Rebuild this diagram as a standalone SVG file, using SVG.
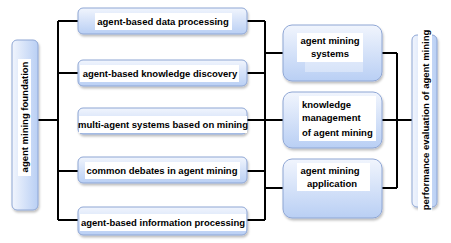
<svg xmlns="http://www.w3.org/2000/svg" width="451" height="243" viewBox="0 0 451 243">
<defs>
<linearGradient id="g" x1="0" y1="0" x2="0" y2="1">
<stop offset="0" stop-color="#f1f5fd"/>
<stop offset="1" stop-color="#b9cff4"/>
</linearGradient>
<linearGradient id="gh" x1="0" y1="0" x2="1" y2="0">
<stop offset="0" stop-color="#f1f5fd"/>
<stop offset="1" stop-color="#b9cff4"/>
</linearGradient>
<filter id="sh" x="-10%" y="-10%" width="130%" height="140%">
<feDropShadow dx="1" dy="2" stdDeviation="1.2" flood-color="#000" flood-opacity="0.25"/>
</filter>
</defs>
<style>
.box{fill:url(#g);stroke:#8ea6d4;stroke-width:1;filter:url(#sh)}
.vbox{fill:url(#gh);stroke:#8ea6d4;stroke-width:1;filter:url(#sh)}
.wb{fill:#fff}
.t{font-family:"Liberation Sans",Arial,sans-serif;font-weight:bold;font-size:9.5px;fill:#000}
.c{fill:none;stroke:#000;stroke-width:2}
</style>
<rect width="451" height="243" fill="#fff"/>
<g id="connectors">
<path class="c" d="M38 120H58M58 21V220M58 21H78M58 73H78M58 220H78M58 171H78"/>
<path class="c" d="M247 21H265M247 73H265M247 120H265M247 171H265M247 220H265M265 21V220M265 53H283M265 188H283M265 120H283"/>
<path class="c" d="M382 53H397M382 188H397M397 53V188M382 120H412"/>
</g>
<g id="n0">
<rect class="vbox" x="12" y="40" width="26" height="170" rx="5"/>
<rect class="wb" x="18" y="59" width="13" height="117"/>
<text class="t" transform="translate(28,117) rotate(-90)" text-anchor="middle">agent mining foundation</text>
</g>
<g id="n1">
<rect class="box" x="78" y="8" width="169" height="26" rx="5"/>
<rect class="wb" x="95" y="13" width="137" height="17"/>
<text class="t" x="163" y="25" text-anchor="middle">agent-based data processing</text>
</g>
<g id="n2">
<rect class="box" x="78" y="60" width="169" height="26" rx="5"/>
<rect class="wb" x="80" y="65" width="159" height="17"/>
<text class="t" x="160" y="77" text-anchor="middle">agent-based knowledge discovery</text>
</g>
<g id="n3">
<rect class="box" x="78" y="108" width="169" height="26" rx="5"/>
<rect class="wb" x="79" y="116" width="168" height="17"/>
<text class="t" x="163" y="128" text-anchor="middle">multi-agent systems based on mining</text>
</g>
<g id="n4">
<rect class="box" x="78" y="157" width="169" height="26" rx="5"/>
<rect class="wb" x="85" y="162" width="155" height="17"/>
<text class="t" x="162" y="174" text-anchor="middle">common debates in agent mining</text>
</g>
<g id="n5">
<rect class="box" x="78" y="207" width="169" height="28" rx="5"/>
<rect class="wb" x="80" y="214" width="166" height="17"/>
<text class="t" x="163" y="226" text-anchor="middle">agent-based information processing</text>
</g>
<g id="n6">
<rect class="box" x="283" y="25" width="99" height="56" rx="9"/>
<rect class="wb" x="297" y="33" width="66" height="29"/>
<rect x="305" y="62" width="58" height="10" fill="#fff" opacity="0.35"/>
<text class="t" x="330" y="44" text-anchor="middle">agent mining</text>
<text class="t" x="330" y="57" text-anchor="middle">systems</text>
</g>
<g id="n7">
<rect class="box" x="283" y="92" width="99" height="56" rx="9"/>
<rect class="wb" x="299" y="96" width="77" height="45"/>
<text class="t" x="302" y="108">knowledge</text>
<text class="t" x="302" y="121">management</text>
<text class="t" x="302" y="136">of agent mining</text>
</g>
<g id="n8">
<rect class="box" x="283" y="159" width="99" height="59" rx="9"/>
<rect class="wb" x="297" y="163" width="73" height="28"/>
<text class="t" x="330" y="174" text-anchor="middle">agent mining</text>
<text class="t" x="332" y="187" text-anchor="middle">application</text>
</g>
<g id="n9">
<rect class="vbox" x="412" y="35" width="25" height="172" rx="5"/>
<rect class="wb" x="418" y="28" width="14" height="184"/>
<text class="t" transform="translate(429,120) rotate(-90)" text-anchor="middle">performance evaluation of agent mining</text>
</g>
</svg>
